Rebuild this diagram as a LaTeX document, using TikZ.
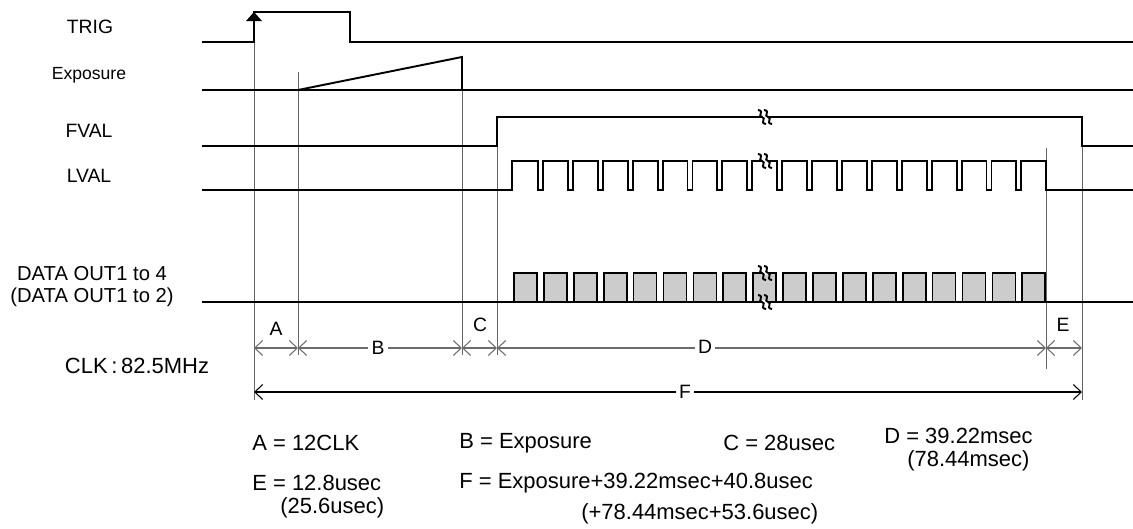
\documentclass[tikz,border=0pt]{standalone}
\usepackage{fontspec}
\setmainfont{Liberation Sans}
\usetikzlibrary{arrows.meta}

\begin{document}
\begin{tikzpicture}[
  x=0.02cm, y=-0.02cm,
  sig/.style={line width=1.1pt, line join=miter},
  guide/.style={gray!80!black, line width=0.5pt},
  dim/.style={{Straight Barb[length=4.5pt,width=8.5pt]}-{Straight Barb[length=4.5pt,width=8.5pt]}, line width=0.6pt, gray!85!black},
  lbl/.style={font=\fontsize{11}{13}\selectfont},
  dlbl/.style={fill=white, inner sep=2pt, font=\fontsize{11}{13}\selectfont},
  note/.style={anchor=west, inner sep=0pt, font=\fontsize{12.5}{14}\selectfont},
  databox/.style={draw, line width=1pt, fill=gray!40},
  brk/.pic={
    \fill[white] (-3,-2) rectangle (3,2);
    \foreach \s in {-3,3}
      \draw[line width=1.1pt] ({\s-4},-7) .. controls ({\s+3},-6) and ({\s-5},-1) .. (\s,0)
        .. controls ({\s+5},1) and ({\s-3},6) .. ({\s+4},7);
  }
]
\useasboundingbox (0,0) rectangle (1133,528);

\node[lbl] (trig) at (90,27) {TRIG};
\node[lbl, font=\fontsize{10}{12}\selectfont] (expo) at (89,75) {Exposure};
\node[lbl] (fval) at (89,131) {FVAL};
\node[lbl] (lval) at (89,176) {LVAL};
\node[lbl, align=center, font=\fontsize{11.5}{12.5}\selectfont] (data) at (92,287) {DATA OUT1 to 4\\(DATA OUT1 to 2)};
\node[font=\fontsize{12.5}{14}\selectfont] (clk) at (137,366) {CLK\,:\,82.5MHz};

\draw[guide] (254,12) -- (254,400);
\draw[guide] (298,72) -- (298,355);
\draw[guide] (462,57) -- (462,355);
\draw[guide] (497,146) -- (497,355);
\draw[guide] (1046,148) -- (1046,369);
\draw[guide] (1082,117) -- (1082,400);

\draw[sig] (202,42) -- (254,42) -- (254,12) -- (350,12) -- (350,42) -- (1133,42);
\fill (254,12) -- (246,21) -- (262,21) -- cycle;
\draw[sig] (202,90) -- (1133,90);
\draw[sig] (298,90) -- (462,57) -- (462,90);
\draw[sig] (202,146) -- (497,146) -- (497,117) -- (1082,117) -- (1082,146) -- (1133,146);
\draw[sig] (202,190) -- (512,190) -- (512,161)
  \foreach \k in {0,...,16}{ -- ({538+29.9*\k},161) -- ({538+29.9*\k},190) -- ({543+29.9*\k},190) -- ({543+29.9*\k},161) }
  -- (1046,161) -- (1046,190) -- (1133,190);
\draw[sig] (202,302) -- (1133,302);
\foreach \k in {0,...,17}
  \draw[databox] ({514+29.9*\k},302) rectangle ({537+29.9*\k},273);

\pic at (765,117) {brk};
\pic at (765,161) {brk};
\pic at (765,273) {brk};
\pic at (765,302) {brk};

\coordinate (t0) at (254,348);
\coordinate (t1) at (298,348);
\coordinate (t2) at (462,348);
\coordinate (t3) at (497,348);
\coordinate (t4) at (1046,348);
\coordinate (t5) at (1082,348);
\coordinate (f0) at (254,392);
\coordinate (f1) at (1082,392);
\draw[dim] (t0) -- (t1);
\draw[dim] (t1) -- (t2);
\draw[dim] (t2) -- (t3);
\draw[dim] (t3) -- (t4);
\draw[dim] (t4) -- (t5);
\draw[dim, black] (f0) -- (f1);
\node[lbl] (la) at (276,329) {A};
\node[dlbl] (lb) at (378,348) {B};
\node[lbl] (lc) at (480,325) {C};
\node[dlbl] (ld) at (705,347) {D};
\node[lbl] (le) at (1063,325) {E};
\node[dlbl] (lf) at (685,392) {F};

\node[note] (na) at (252,443) {A = 12CLK};
\node[note] (nb) at (459,443) {B = Exposure};
\node[note] (nc) at (723,443) {C = 28usec};
\node[note] (nd) at (884,436) {D = 39.22msec};
\node[note] (nd2) at (907,461) {(78.44msec)};
\node[note] (ne) at (252,483) {E = 12.8usec};
\node[note] (ne2) at (280,508) {(25.6usec)};
\node[note] (nf) at (459,483) {F = Exposure+39.22msec+40.8usec};
\node[note] (nf2) at (581,514) {(+78.44msec+53.6usec)};
\end{tikzpicture}
\end{document}
